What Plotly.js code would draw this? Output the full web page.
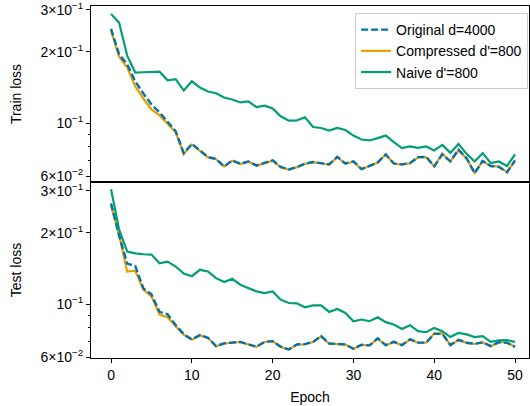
<!DOCTYPE html>
<html><head><meta charset="utf-8">
<script src="https://cdn.plot.ly/plotly-3.0.1.min.js"></script>
<style>html,body{margin:0;padding:0;background:#fff}</style>
</head><body><div id="chart" style="width:530px;height:406px"></div>
<script>
const epochs = [0,1,2,3,4,5,6,7,8,9,10,11,12,13,14,15,16,17,18,19,20,21,22,23,24,25,26,27,28,29,30,31,32,33,34,35,36,37,38,39,40,41,42,43,44,45,46,47,48,49,50];

const trainOriginal = [0.2498,0.1950,0.1771,0.1499,0.1335,0.1201,0.1112,0.1010,0.0926,0.0749,0.0819,0.0769,0.0721,0.0709,0.0659,0.0698,0.0676,0.0691,0.0665,0.0682,0.0698,0.0655,0.0640,0.0655,0.0676,0.0687,0.0678,0.0672,0.0723,0.0678,0.0692,0.0642,0.0662,0.0685,0.0740,0.0678,0.0672,0.0680,0.0721,0.0723,0.0660,0.0740,0.0692,0.0775,0.0714,0.0617,0.0695,0.0661,0.0656,0.0622,0.0698];
const trainCompressed = [0.2449,0.1907,0.1715,0.1428,0.1272,0.1144,0.1080,0.1000,0.0917,0.0742,0.0815,0.0766,0.0718,0.0706,0.0657,0.0696,0.0674,0.0689,0.0663,0.0680,0.0696,0.0653,0.0639,0.0654,0.0675,0.0686,0.0677,0.0670,0.0721,0.0676,0.0690,0.0641,0.0661,0.0684,0.0738,0.0676,0.0670,0.0679,0.0719,0.0721,0.0658,0.0745,0.0690,0.0770,0.0712,0.0619,0.0693,0.0660,0.0658,0.0625,0.0694];
const trainNaive = [0.2886,0.2647,0.1925,0.1635,0.1640,0.1645,0.1650,0.1517,0.1533,0.1374,0.1503,0.1414,0.1361,0.1339,0.1285,0.1260,0.1224,0.1236,0.1170,0.1186,0.1155,0.1070,0.1026,0.1029,0.1060,0.0965,0.0956,0.0932,0.0956,0.0937,0.0888,0.0855,0.0847,0.0866,0.0888,0.0833,0.0786,0.0799,0.0788,0.0799,0.0769,0.0811,0.0751,0.0819,0.0744,0.0691,0.0749,0.0680,0.0691,0.0661,0.0740];

const testOriginal = [0.2654,0.1944,0.1484,0.1449,0.1167,0.1101,0.0930,0.0908,0.0817,0.0749,0.0712,0.0742,0.0723,0.0667,0.0685,0.0689,0.0695,0.0678,0.0663,0.0695,0.0700,0.0663,0.0646,0.0678,0.0680,0.0695,0.0735,0.0684,0.0683,0.0678,0.0650,0.0676,0.0672,0.0719,0.0673,0.0695,0.0674,0.0712,0.0690,0.0690,0.0751,0.0751,0.0674,0.0709,0.0689,0.0682,0.0692,0.0667,0.0692,0.0689,0.0662];
const testCompressed = [0.2613,0.1957,0.1374,0.1384,0.1152,0.1080,0.0906,0.0882,0.0809,0.0746,0.0710,0.0740,0.0721,0.0666,0.0684,0.0688,0.0694,0.0677,0.0662,0.0694,0.0699,0.0662,0.0645,0.0677,0.0679,0.0694,0.0733,0.0683,0.0682,0.0677,0.0649,0.0675,0.0671,0.0717,0.0672,0.0694,0.0673,0.0710,0.0689,0.0689,0.0754,0.0754,0.0673,0.0707,0.0688,0.0681,0.0691,0.0666,0.0694,0.0691,0.0663];
const testNaive = [0.3049,0.2060,0.1667,0.1639,0.1624,0.1619,0.1488,0.1513,0.1442,0.1348,0.1313,0.1397,0.1374,0.1288,0.1240,0.1281,0.1209,0.1170,0.1133,0.1115,0.1133,0.1046,0.1013,0.1010,0.0971,0.0989,0.0990,0.0929,0.0956,0.0920,0.0849,0.0863,0.0849,0.0882,0.0841,0.0822,0.0788,0.0817,0.0771,0.0763,0.0796,0.0771,0.0728,0.0758,0.0747,0.0728,0.0735,0.0695,0.0705,0.0707,0.0695];

const seriesNames = ["Original d=4000", "Compressed d'=800", "Naive d'=800"];
const yTickVals = [0.06, 0.1, 0.2, 0.3];
const yTickText = ["6\u00d710<sup>\u22122</sup>", "10<sup>\u22121</sup>", "2\u00d710<sup>\u22121</sup>", "3\u00d710<sup>\u22121</sup>"];
const yMinorVals = [0.07, 0.08, 0.09];
const xTickVals = [0, 10, 20, 30, 40, 50];

const BLUE = '#0072B2', ORANGE = '#E69F00', GREEN = '#009E73';
const FONT = 'Liberation Sans, Arial, Helvetica, sans-serif';

const traces = [
  {x: epochs, y: trainCompressed, name: seriesNames[1], xaxis: 'x', yaxis: 'y', mode: 'lines',
   line: {color: ORANGE, width: 2.2}, legendrank: 2},
  {x: epochs, y: trainOriginal, name: seriesNames[0], xaxis: 'x', yaxis: 'y', mode: 'lines',
   line: {color: BLUE, width: 2.4, dash: '7px,3px'}, legendrank: 1},
  {x: epochs, y: trainNaive, name: seriesNames[2], xaxis: 'x', yaxis: 'y', mode: 'lines',
   line: {color: GREEN, width: 2.2}, legendrank: 3},
  {x: epochs, y: testCompressed, name: seriesNames[1], xaxis: 'x2', yaxis: 'y2', mode: 'lines',
   line: {color: ORANGE, width: 2.2}, showlegend: false},
  {x: epochs, y: testOriginal, name: seriesNames[0], xaxis: 'x2', yaxis: 'y2', mode: 'lines',
   line: {color: BLUE, width: 2.4, dash: '7px,3px'}, showlegend: false},
  {x: epochs, y: testNaive, name: seriesNames[2], xaxis: 'x2', yaxis: 'y2', mode: 'lines',
   line: {color: GREEN, width: 2.2}, showlegend: false}
];

function yAxis(domain, range, title) {
  return {
    domain: domain, type: 'log', range: range,
    tickmode: 'array', tickvals: yTickVals, ticktext: yTickText,
    ticks: 'outside', ticklen: 4, tickwidth: 1, tickcolor: '#000',
    ticklabeloverflow: 'allow',
    minor: {tickmode: 'array', tickvals: yMinorVals, ticks: 'outside', ticklen: 2.5, tickwidth: 1, tickcolor: '#000', showgrid: false},
    showline: true, mirror: true, linecolor: '#000', linewidth: 1,
    showgrid: false, zeroline: false,
    tickfont: {size: 14, color: '#000', family: FONT},
    title: {text: title, font: {size: 14, color: '#000', family: FONT}, standoff: 15}
  };
}

const layout = {
  width: 530, height: 406, autosize: false,
  margin: {l: 91, r: 1, t: 6, b: 48, pad: 0},
  paper_bgcolor: '#fff', plot_bgcolor: '#fff',
  font: {family: FONT, size: 14, color: '#000'},
  showlegend: true,
  legend: {x: 0.998, xanchor: 'right', y: 0.98, yanchor: 'top',
           bgcolor: 'rgba(255,255,255,0.9)', bordercolor: '#cccccc', borderwidth: 1,
           font: {size: 14, family: FONT, color: '#000'}, traceorder: 'normal'},
  xaxis: {anchor: 'y', range: [-2.48, 51.73], showticklabels: false, ticks: '',
          showline: true, mirror: true, linecolor: '#000', linewidth: 1, showgrid: false, zeroline: false},
  xaxis2: {anchor: 'y2', matches: 'x', range: [-2.48, 51.73], tickmode: 'array', tickvals: xTickVals,
           ticks: 'outside', ticklen: 4, tickwidth: 1, tickcolor: '#000',
           showline: true, mirror: true, linecolor: '#000', linewidth: 1, showgrid: false, zeroline: false,
           tickfont: {size: 14, color: '#000', family: FONT},
           title: {text: 'Epoch', font: {size: 14, color: '#000', family: FONT}, standoff: 10}},
  yaxis: yAxis([0.5, 1], [-1.2469, -0.5063], 'Train loss'),
  yaxis2: yAxis([0, 0.5], [-1.2259, -0.4854], 'Test loss')
};

Plotly.newPlot('chart', traces, layout, {staticPlot: true, displayModeBar: false});
</script>
</body></html>
